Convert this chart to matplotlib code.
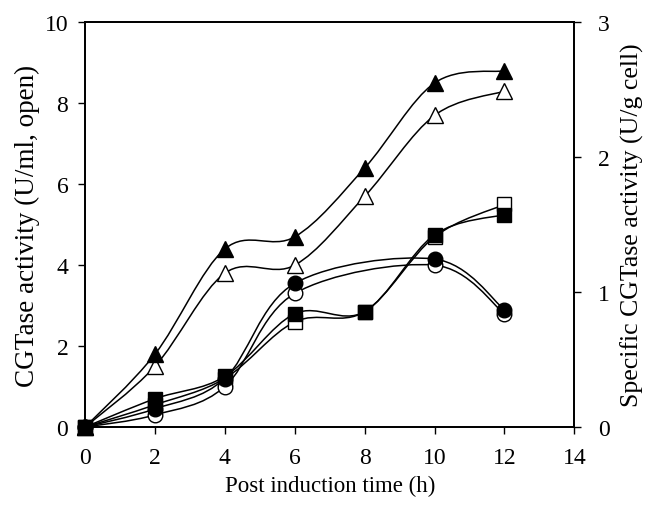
import matplotlib
matplotlib.use("Agg")
import matplotlib.pyplot as plt
from matplotlib.path import Path
from matplotlib.patches import PathPatch
import numpy as np

plt.rcParams['font.family'] = ['Liberation Serif', 'DejaVu Serif']

time_full = [0, 2, 4, 6, 8, 10, 12]
time_circ = [0, 2, 4, 6, 10, 12]

tri_filled = [0, 1.8, 4.4, 4.7, 6.4, 8.5, 8.8]
tri_open = [0, 1.5, 3.8, 4.0, 5.7, 7.7, 8.3]
sq_filled = [0, 0.7, 1.25, 2.8, 2.85, 4.75, 5.25]
sq_open = [0, 0.55, 1.2, 2.6, 2.85, 4.7, 5.5]
circ_filled = [0, 0.45, 1.2, 3.55, 4.15, 2.9]
circ_open = [0, 0.3, 1.0, 3.3, 4.0, 2.8]

xticks = [0, 2, 4, 6, 8, 10, 12, 14]
yticks_left = [0, 2, 4, 6, 8, 10]
yticks_right = [0, 1, 2, 3]


def smooth_path(x, y):
    p = np.column_stack([x, y]).astype(float)
    n = len(p)
    verts = [p[0]]
    codes = [Path.MOVETO]
    for i in range(n - 1):
        p0 = p[i - 1] if i > 0 else p[i]
        p1 = p[i]
        p2 = p[i + 1]
        p3 = p[i + 2] if i + 2 < n else p[i + 1]
        c1 = p1 + (p2 - p0) / 6.0
        c2 = p2 - (p3 - p1) / 6.0
        verts += [c1, c2, p2]
        codes += [Path.CURVE4] * 3
    return Path(verts, codes)


fig = plt.figure(figsize=(6.49, 5.06), dpi=100)
ax = fig.add_axes([0.131, 0.154, 0.754, 0.800])

series = [
    (time_full, tri_open, '^', 'white', 11),
    (time_full, tri_filled, '^', 'black', 11),
    (time_full, sq_open, 's', 'white', 10),
    (time_full, sq_filled, 's', 'black', 10),
    (time_circ, circ_open, 'o', 'white', 10.5),
    (time_circ, circ_filled, 'o', 'black', 10.5),
]

for x, y, m, fc, ms in series:
    patch = PathPatch(smooth_path(x, y), facecolor='none', edgecolor='black',
                      lw=1.1, zorder=2, transform=ax.transData)
    ax.add_patch(patch)

for x, y, m, fc, ms in series:
    ax.plot(x, y, linestyle='none', marker=m, markersize=ms,
            markerfacecolor=fc, markeredgecolor='black', markeredgewidth=1.0,
            zorder=3, clip_on=False)

ax.set_xlim(0, 14)
ax.set_ylim(0, 10)
ax.set_xticks(xticks)
ax.set_yticks(yticks_left)
ax.tick_params(direction='out', length=5, width=1, labelsize=17)
ax.tick_params(axis='x', pad=9)
ax.tick_params(axis='y', pad=7)
ax.set_xlabel('Post induction time (h)', fontsize=16.5)
ax.xaxis.set_label_coords(0.5, -0.118)
ax.set_ylabel('CGTase activity (U/ml, open)', fontsize=19.5)
ax.yaxis.set_label_coords(-0.092, 0.5)
for s in ax.spines.values():
    s.set_linewidth(1.3)

ax2 = ax.twinx()
ax2.set_ylim(0, 3)
ax2.set_yticks(yticks_right)
ax2.tick_params(direction='out', length=5, width=1, labelsize=17, pad=12)
ax2.set_ylabel('Specific CGTase activity (U/g cell)', fontsize=18.5)
ax2.yaxis.set_label_coords(1.094, 0.5)
for s in ax2.spines.values():
    s.set_linewidth(1.3)

fig.savefig('out.png', dpi=100)
